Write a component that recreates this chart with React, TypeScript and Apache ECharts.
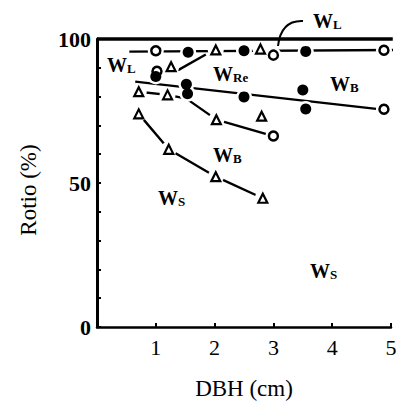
import React, { useEffect, useRef } from "react";
import * as echarts from "echarts";

// ---- data (x = DBH cm, y = ratio %) ----
const xTickValues = [1, 2, 3, 4, 5];
const yTickLabels = [0, 50, 100];

const totalLine = [[0, 100], [5.03, 100]];

const wlLine = [[0.55, 95.6], [5.1, 96.2]];
const wlOpen = [[1.0, 95.9], [3.0, 94.4], [4.88, 96.1]];
const wlFilled = [[1.55, 95.4], [2.5, 95.9], [3.55, 95.7]];
const wlTri = [[2.02, 96.2], [2.78, 96.5]];

const wreLine = [[1.38, 89.2], [1.85, 94.6]];
const wreOpen = [[1.02, 88.8]];
const wreFilled = [[1.0, 87.0]];
const wreTri = [[1.26, 90.4]];

const wbCircleLine = [[0.65, 85.2], [4.9, 75.4]];
const wbFilled = [[1.52, 84.3], [1.54, 81.0], [2.5, 79.9], [3.5, 82.3], [3.55, 75.7]];
const wbOpen = [[4.88, 75.6]];

const wbTriLine = [[0.71, 81.7], [1.2, 80.6], [1.52, 79.3], [2.03, 72.0], [3.0, 66.3]];
const wbTri = [[0.71, 81.7], [1.2, 80.6], [2.03, 72.0], [2.8, 73.2]];
const wbTriOpen = [[3.0, 66.3]];

const wsLine = [[0.71, 74.0], [1.22, 61.7], [2.02, 52.2], [2.82, 44.7]];
const wsTri = [[0.71, 74.0], [1.22, 61.7], [2.02, 52.2], [2.82, 44.7]];

const SERIF = "'Liberation Serif', 'DejaVu Serif', serif";

const openCircles = [...wlOpen, ...wreOpen, ...wbOpen, ...wbTriOpen];
const filledCircles = [...wlFilled, ...wreFilled, ...wbFilled];
const triangles = [...wlTri, ...wreTri, ...wbTri, ...wsTri];
const halos = [...openCircles, ...filledCircles, ...triangles];

function lineSeries(data: number[][], width = 2.4) {
  return {
    type: "line",
    data,
    symbol: "none",
    clip: false,
    z: 1,
    lineStyle: { color: "#000", width },
  };
}

function labelText(x: number, y: number, main: string, sub: string) {
  return {
    type: "text",
    x,
    y,
    z: 100,
    style: {
      text: `{w|${main}}{s|${sub}}`,
      align: "left",
      verticalAlign: "bottom",
      fill: "#000",
      rich: {
        w: { fontSize: 20, lineHeight: 20, fontFamily: SERIF, fontWeight: "bold", verticalAlign: "bottom", fill: "#000" },
        s: { fontSize: 13, lineHeight: 13, fontFamily: SERIF, fontWeight: "bold", verticalAlign: "bottom", fill: "#000" },
      },
    },
  };
}

export default function App() {
  const ref = useRef<HTMLDivElement>(null);
  useEffect(() => {
    if (!ref.current) return;
    const chart = echarts.init(ref.current, null, { renderer: "svg" });
    chart.setOption({
      animation: false,
      backgroundColor: "#fff",
      grid: { left: 97, right: 10, top: 39, bottom: 76, containLabel: false },
      xAxis: {
        type: "value",
        min: 0,
        max: 5,
        interval: 1,
        splitLine: { show: false },
        axisLine: { lineStyle: { color: "#000", width: 2.5 } },
        axisTick: { inside: true, length: 4, lineStyle: { color: "#000", width: 2 } },
        axisLabel: {
          margin: 9,
          fontSize: 22,
          fontFamily: SERIF,
          color: "#000",
          formatter: (v: number) => (xTickValues.includes(v) ? String(v) : ""),
        },
      },
      yAxis: {
        type: "value",
        min: 0,
        max: 100,
        interval: 10,
        splitLine: { show: false },
        axisLine: { lineStyle: { color: "#000", width: 3 } },
        axisTick: { inside: true, length: 4, lineStyle: { color: "#000", width: 2 } },
        axisLabel: {
          margin: 6,
          fontSize: 22,
          fontWeight: "bold",
          fontFamily: SERIF,
          color: "#000",
          formatter: (v: number) => (yTickLabels.includes(v) ? String(v) : ""),
        },
      },
      series: [
        lineSeries(totalLine, 3.5),
        lineSeries(wlLine),
        lineSeries(wreLine),
        lineSeries(wbCircleLine),
        lineSeries(wbTriLine),
        lineSeries(wsLine),
        {
          type: "scatter",
          data: halos,
          symbol: "circle",
          symbolSize: 16,
          z: 5,
          itemStyle: { color: "#ffffff", opacity: 1 },
          emphasis: { disabled: true },
          clip: false,
        },
        {
          type: "scatter",
          data: openCircles,
          symbol: "circle",
          symbolSize: 9,
          z: 6,
          itemStyle: { color: "#fff", borderColor: "#000", borderWidth: 2.5, opacity: 1 },
          clip: false,
        },
        {
          type: "scatter",
          data: filledCircles,
          symbol: "circle",
          symbolSize: 11,
          z: 6,
          itemStyle: { color: "#000", opacity: 1 },
          clip: false,
        },
        {
          type: "scatter",
          data: triangles,
          symbol: "triangle",
          symbolSize: 9,
          z: 7,
          itemStyle: { color: "#fff", borderColor: "#000", borderWidth: 2.2, opacity: 1 },
          clip: false,
        },
      ],
      graphic: [
        {
          type: "text",
          x: 244,
          y: 388,
          style: {
            text: "DBH (cm)",
            fontSize: 23,
            fontFamily: SERIF,
            fill: "#000",
            align: "center",
            verticalAlign: "middle",
          },
        },
        {
          type: "text",
          x: 28,
          y: 190,
          rotation: Math.PI / 2,
          style: {
            text: "Rotio (%)",
            fontSize: 23,
            fontFamily: SERIF,
            fill: "#000",
            align: "center",
            verticalAlign: "middle",
          },
        },
        {
          type: "bezierCurve",
          shape: { x1: 278, y1: 46, cpx1: 281, cpy1: 20, x2: 303, y2: 21 },
          style: { stroke: "#000", lineWidth: 2, fill: "none" },
          z: 100,
        },
        labelText(313, 31, "W", "L"),
        labelText(107, 75, "W", "L"),
        labelText(213, 84, "W", "Re"),
        labelText(330, 94, "W", "B"),
        labelText(213, 165, "W", "B"),
        labelText(158, 208, "W", "S"),
        labelText(310, 281, "W", "S"),
      ],
    });
    return () => chart.dispose();
  }, []);
  return (
    <div
      ref={ref}
      style={{ position: "fixed", left: 0, top: 0, width: 401, height: 403, background: "#fff" }}
    />
  );
}
